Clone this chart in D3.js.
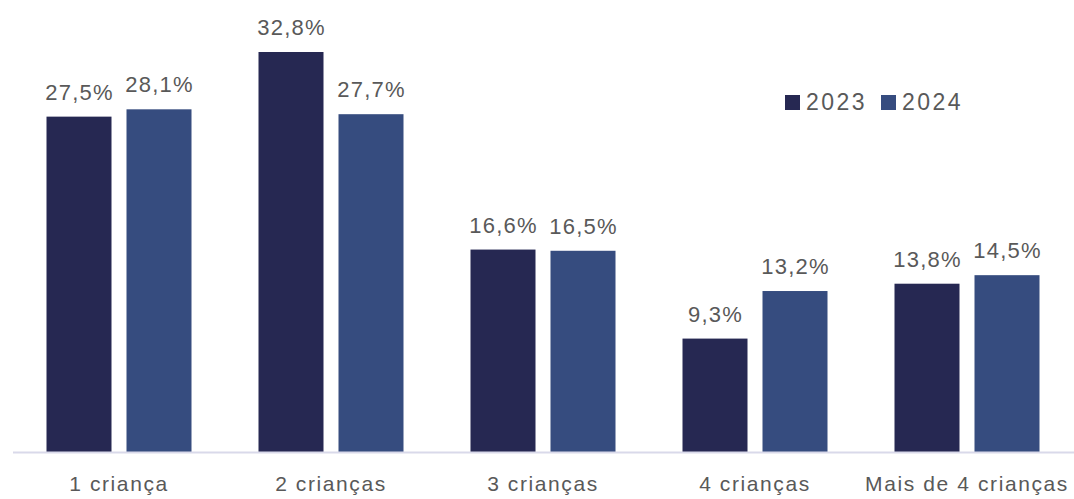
<!DOCTYPE html>
<html><head><meta charset="utf-8">
<script src="https://cdn.jsdelivr.net/npm/d3@7"></script>
<style>body{margin:0;background:#fff}svg{display:block}text{font-family:"Liberation Sans",Arial,sans-serif}</style>
</head><body>
<svg id="c" width="1074" height="499"></svg>
<script>
const categories = ["1 criança","2 crianças","3 crianças","4 crianças","Mais de 4 crianças"];
const years = ["2023","2024"];
const values2023 = [27.5,32.8,16.6,9.3,13.8];
const values2024 = [28.1,27.7,16.5,13.2,14.5];
const colors = ["#262852","#364c7f"];

const data = categories.map((c,i)=>({cat:c, vals:[values2023[i],values2024[i]]}));
const svg = d3.select("#c");
const x0 = d3.scaleBand().domain(categories).range([13,1073]).padding(0);
const x1 = d3.scaleBand().domain(years).range([33.5,178.5]).paddingInner(0.1875).paddingOuter(0);
const y = d3.scaleLinear().domain([0,32.8]).range([452,52]);
const fmt = v => d3.format(".1f")(v).replace(".",",")+"%";

const g = svg.selectAll("g.grp").data(data).join("g").attr("class","grp")
  .attr("transform",d=>`translate(${x0(d.cat)},0)`);
g.selectAll("rect").data(d=>d.vals.map((v,j)=>({v,yr:years[j],j}))).join("rect")
  .attr("x",d=>x1(d.yr)).attr("width",x1.bandwidth())
  .attr("y",d=>y(d.v)).attr("height",d=>y(0)-y(d.v))
  .attr("fill",d=>colors[d.j]);
g.selectAll("text.val").data(d=>d.vals.map((v,j)=>({v,yr:years[j],j}))).join("text")
  .attr("class","val")
  .attr("x",d=>x1(d.yr)+x1.bandwidth()/2+0.5).attr("y",d=>y(d.v)-17)
  .attr("text-anchor","middle").attr("font-size",22).attr("letter-spacing",1.2)
  .attr("fill","#595959").text(d=>fmt(d.v));

// axis
const ax = svg.append("g").attr("transform","translate(0,452)")
  .call(d3.axisBottom(x0).tickSize(0).tickPadding(0));
ax.select(".domain").attr("stroke","#d9d9ea").attr("stroke-width",2).attr("d","M13,0.5H1074");
ax.selectAll("text").attr("y",39).attr("dy",0).attr("font-size",21).attr("letter-spacing",1.6)
  .attr("fill","#595959").attr("font-family","Liberation Sans, Arial, sans-serif");

// legend
const lg = svg.append("g");
const lx = [785,881];
years.forEach((yr,i)=>{
  lg.append("rect").attr("x",lx[i]).attr("y",95).attr("width",15).attr("height",15).attr("fill",colors[i]);
  lg.append("text").attr("x",lx[i]+21).attr("y",110).attr("font-size",23).attr("letter-spacing",2.5)
    .attr("fill","#595959").text(yr);
});
</script>
</body></html>
